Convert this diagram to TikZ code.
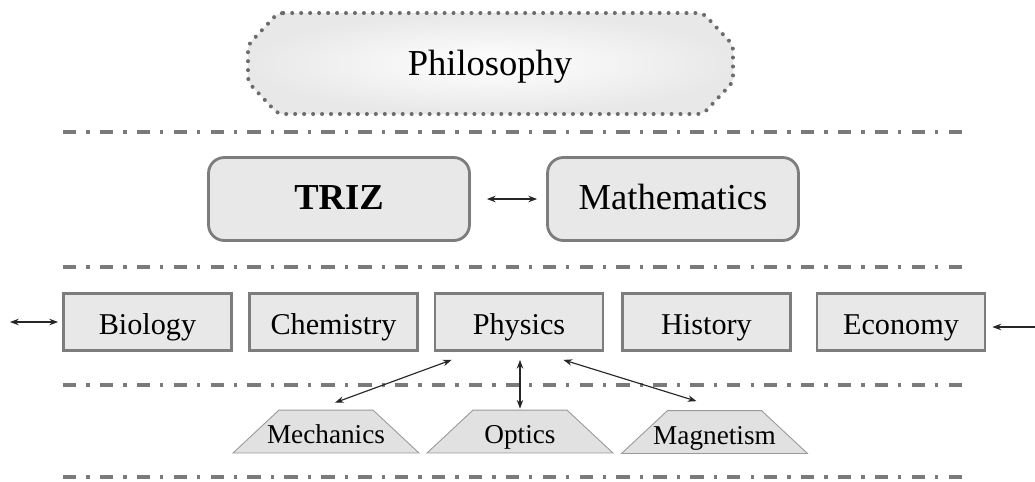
\documentclass[tikz,border=0pt]{standalone}
\usepackage{fontspec}
\setmainfont{Liberation Serif}
\usepackage{tikz}
\usetikzlibrary{arrows.meta, calc}

\definecolor{boxgray}{RGB}{232,232,232}
\definecolor{branchgray}{RGB}{225,225,225}
\definecolor{edgegray}{RGB}{125,125,125}
\definecolor{sepgray}{RGB}{122,122,122}
\definecolor{dotgray}{RGB}{108,108,108}

\begin{document}
\begin{tikzpicture}[x=0.02cm, y=-0.02cm,
    subject/.style={draw=edgegray, line width=1.6pt, fill=boxgray, minimum width=3.36cm,
        minimum height=1.14cm, inner sep=0pt, text height=15pt, text depth=1pt,
        font=\fontsize{17.2}{20}\selectfont},
    core/.style={subject, rounded corners=9pt, minimum height=1.66cm, text height=16pt, text depth=4pt,
        font=\fontsize{20.8}{24}\selectfont},
    branch/.style={minimum width=3.76cm, minimum height=0.9cm, inner sep=0pt,
        text height=14.7pt, text depth=0.8pt, font=\fontsize{15.5}{18}\selectfont,
        path picture={
            \draw[draw=gray!80, line width=0.5pt, fill=branchgray]
                ([xshift=0.6pt, yshift=0.6pt]path picture bounding box.south west)
                -- ([xshift=-0.6pt, yshift=0.6pt]path picture bounding box.south east)
                -- ([xshift=-0.94cm, yshift=-0.6pt]path picture bounding box.north east)
                -- ([xshift=0.94cm, yshift=-0.6pt]path picture bounding box.north west)
                -- cycle;
        }},
    separator/.style={sepgray, line width=2.1pt, dash pattern=on 7.6pt off 5.7pt on 1.9pt off 5.8pt},
    link/.style={<->, >={Stealth[length=5pt, width=3.7pt]}, line width=0.65pt, black!85},
    feed/.style={link, <-}
]
    \useasboundingbox (0,0) rectangle (1035,481);

    % Top level
    \draw[rounded corners=3pt, inner color=white, outer color=boxgray, draw=dotgray,
        line width=2.3pt, line cap=round, dash pattern=on 0pt off 5.1pt]
        (278,13) -- (703,13) -- (733,45) -- (733,82) -- (703,114)
        -- (278,114) -- (248,82) -- (248,45) -- cycle;
    \node[font=\fontsize{20.8}{24}\selectfont] (philosophy) at (490,67) {Philosophy};

    % Separators
    \foreach \y in {132, 267, 385, 477} {
        \draw[separator] (63,\y) -- (963,\y);
    }

    % Methods
    \node[core, minimum width=5.22cm] (triz) at (339,199) {\bfseries TRIZ};
    \node[core, minimum width=5.02cm] (math) at (673,199) {Mathematics};
    \draw[link] ($(triz.east)+(16,0)$) -- ($(math.west)+(-9,0)$);

    % Sciences
    \node[subject] (biology) at (147.5,322) {Biology};
    \node[subject] (chemistry) at (333.5,322) {Chemistry};
    \node[subject] (physics) at (519,322) {Physics};
    \node[subject] (history) at (706.5,322) {History};
    \node[subject] (economy) at (901,322) {Economy};

    \coordinate (leftend) at (10,322);
    \coordinate (rightend) at (1035,327);
    \draw[link] (leftend) -- ($(biology.west)+(-4,0)$);
    \draw[feed] ($(economy.east)+(6,5)$) -- (rightend);

    % Branches of physics
    \node[branch] (mechanics) at (326,431.5) {Mechanics};
    \node[branch] (optics) at (520,431.5) {Optics};
    \node[branch] (magnetism) at (714.5,432) {Magnetism};

    \draw[link] ($(physics.south west)+(18,8)$) -- ($(mechanics.north)+(9,-6)$);
    \draw[link] ($(physics.south)+(1,8)$) -- (optics.north);
    \draw[link] ($(physics.south east)+(-41,8)$) -- ($(magnetism.north)+(-18,-8)$);
\end{tikzpicture}
\end{document}
